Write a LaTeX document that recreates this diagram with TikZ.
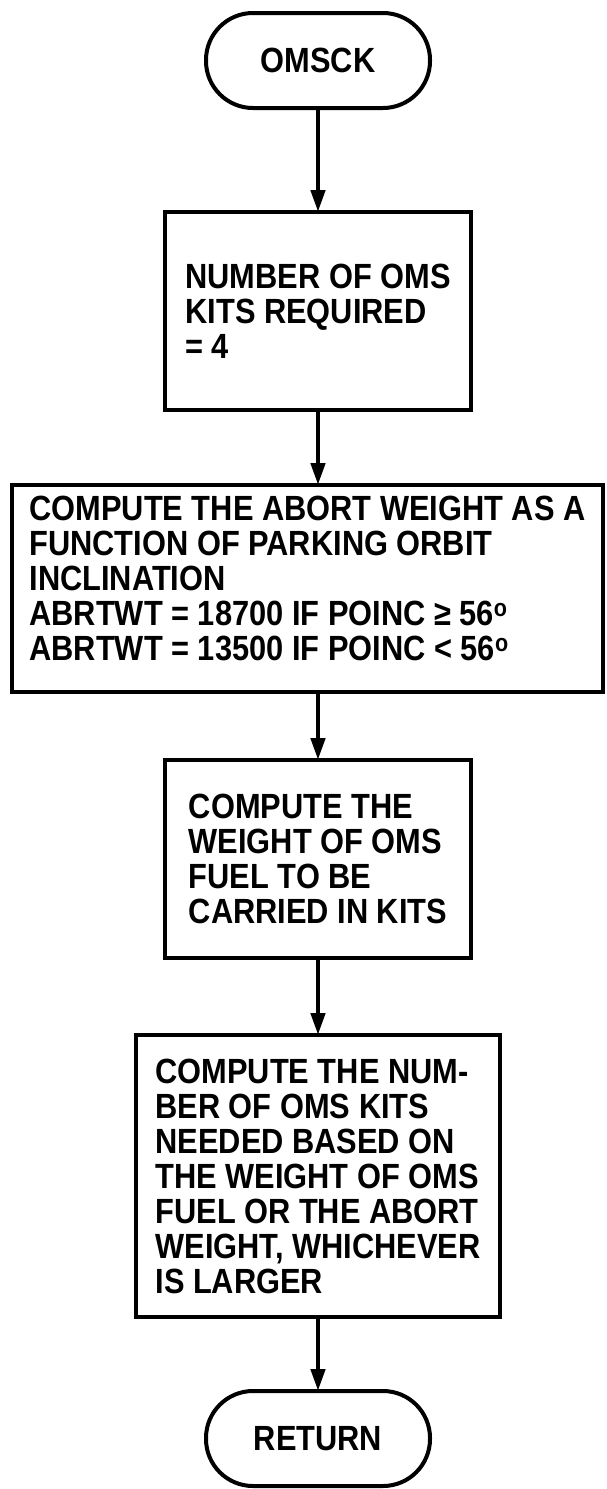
\documentclass[tikz,border=0pt]{standalone}
\usepackage{fontspec}
\setmainfont{Liberation Sans}[FakeStretch=0.88]
\usetikzlibrary{arrows.meta,positioning}

\begin{document}
\begin{tikzpicture}[node distance=75pt, >={Triangle[length=22pt,width=14pt]}, every node/.style={font=\fontsize{35}{35}\selectfont\bfseries}]
\tikzstyle{box}=[draw, line width=4pt, outer sep=0pt, inner sep=0pt, align=left]
\tikzstyle{small}=[box, minimum width=306pt, minimum height=198pt]
\tikzstyle{term}=[box, rounded corners=47pt, minimum width=224pt, minimum height=95pt]
\tikzstyle{flow}=[->, line width=4.5pt]
\useasboundingbox (0,0) rectangle (606pt,-1489pt);
\node[term] (omsck) at (318pt,-60.5pt) {OMSCK};
\node[small, below=104pt of omsck] (kits) {NUMBER OF OMS\\KITS REQUIRED\\= 4};
\node[box, below=of kits, xshift=-10.5pt, minimum width=591pt, minimum height=207pt] (abort) {COMPUTE THE ABORT WEIGHT AS A\\FUNCTION OF PARKING ORBIT\\INCLINATION\\ABRTWT = 18700 IF POINC ≥ 56\textsuperscript{o}\\ABRTWT = 13500 IF POINC < 56\textsuperscript{o}\rule[-20pt]{0pt}{20pt}};
\node[small, below=68pt of abort, xshift=10.5pt] (fuel) {COMPUTE THE\\WEIGHT OF OMS\\FUEL TO BE\\CARRIED IN KITS};
\node[box, below=77pt of fuel, minimum width=364pt, minimum height=282pt] (count) {COMPUTE THE NUM-\\BER OF OMS KITS\\NEEDED BASED ON\\THE WEIGHT OF OMS\\FUEL OR THE ABORT\\WEIGHT, WHICHEVER\\IS LARGER};
\node[term, below=74pt of count] (return) {RETURN};
\draw[flow] (omsck) -- (kits);
\draw[flow] (kits) -- (kits.south |- abort.north);
\draw[flow] (fuel.north |- abort.south) -- (fuel);
\draw[flow] (fuel) -- (count);
\draw[flow] (count) -- (return);
\end{tikzpicture}
\end{document}
